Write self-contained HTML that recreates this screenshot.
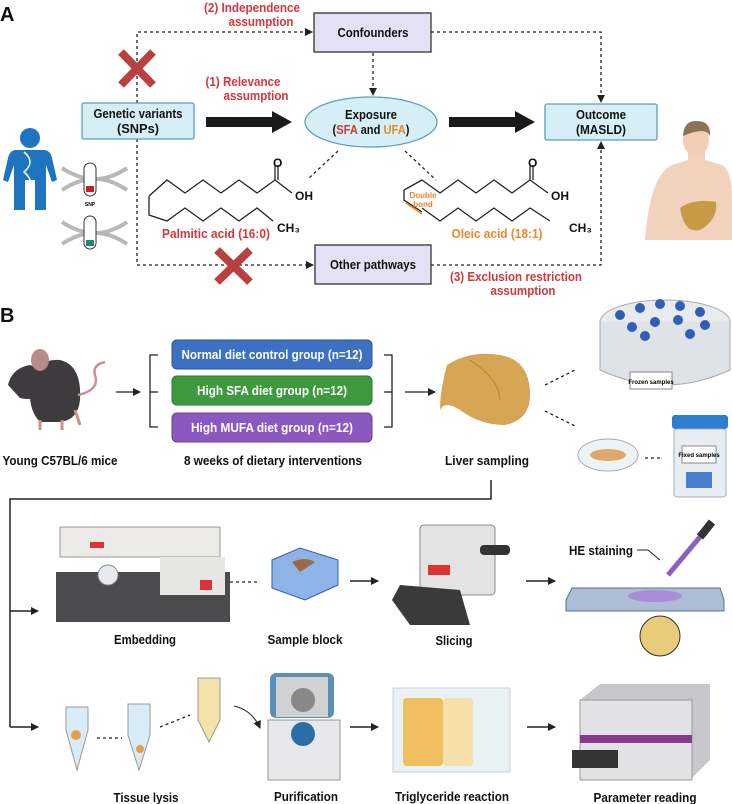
<!DOCTYPE html>
<html><head><meta charset="utf-8"><style>
html,body{margin:0;padding:0;background:#fff}
svg{display:block}
text{font-family:"Liberation Sans",sans-serif;font-weight:bold}
</style></head><body>
<svg width="732" height="804" viewBox="0 0 732 804" xmlns="http://www.w3.org/2000/svg">
<defs>
<marker id="ah" markerWidth="8" markerHeight="8" refX="7" refY="4" orient="auto" markerUnits="userSpaceOnUse"><path d="M0,0 L8,4 L0,8 z" fill="#222"/></marker>
</defs>
<!-- Panel A -->
<text x="0" y="21" font-size="20" fill="#111">A</text>
<g fill="#d2383c" font-size="13" text-anchor="middle" lengthAdjust="spacingAndGlyphs">
<text x="252" y="12" textLength="96" lengthAdjust="spacingAndGlyphs">(2) Independence</text><text x="261" y="26" textLength="65" lengthAdjust="spacingAndGlyphs">assumption</text>
<text x="243" y="86" textLength="75" lengthAdjust="spacingAndGlyphs">(1) Relevance</text><text x="256" y="100" textLength="65" lengthAdjust="spacingAndGlyphs">assumption</text>
<text x="516" y="281" textLength="132" lengthAdjust="spacingAndGlyphs">(3) Exclusion restriction</text><text x="523" y="295" textLength="65" lengthAdjust="spacingAndGlyphs">assumption</text>
</g>
<g stroke="#222" stroke-width="1.3" stroke-dasharray="3,3" fill="none">
<path d="M137,103 V32 H312" marker-end="url(#ah)"/>
<path d="M431,32 H601 V102" marker-end="url(#ah)"/>
<path d="M373,53 V95" marker-end="url(#ah)"/>
<path d="M137,139 V265 H313" marker-end="url(#ah)"/>
<path d="M431,265 H601 V142" marker-end="url(#ah)"/>
<path d="M338,151 L308,179"/>
<path d="M405,151 L436,180"/>
</g>
<rect x="314" y="13" width="117" height="39" fill="#e4e1f4" stroke="#333" stroke-width="1.3"/>
<text x="373" y="37" text-anchor="middle" font-size="13" fill="#111" textLength="71" lengthAdjust="spacingAndGlyphs">Confounders</text>
<rect x="315" y="245" width="116" height="39" fill="#e4e1f4" stroke="#333" stroke-width="1.3"/>
<text x="373" y="269" text-anchor="middle" font-size="13" fill="#111" textLength="86" lengthAdjust="spacingAndGlyphs">Other pathways</text>
<rect x="82" y="103" width="112" height="36" rx="2" fill="#d6eef5" stroke="#5a9fb8" stroke-width="1.3"/>
<text x="138" y="118" text-anchor="middle" font-size="13" fill="#111" textLength="89" lengthAdjust="spacingAndGlyphs">Genetic variants</text>
<text x="138" y="133" text-anchor="middle" font-size="13" fill="#111" textLength="42" lengthAdjust="spacingAndGlyphs">(SNPs)</text>
<ellipse cx="371" cy="122" rx="66" ry="25" fill="#d6eef5" stroke="#5a9fb8" stroke-width="1.3"/>
<text x="371" y="119" text-anchor="middle" font-size="13" fill="#111" textLength="52" lengthAdjust="spacingAndGlyphs">Exposure</text>
<text x="371" y="134" text-anchor="middle" font-size="13" fill="#111" textLength="77" lengthAdjust="spacingAndGlyphs">(<tspan fill="#d2383c">SFA</tspan> and <tspan fill="#e8892a">UFA</tspan>)</text>
<rect x="545" y="104" width="112" height="36" rx="2" fill="#d6eef5" stroke="#5a9fb8" stroke-width="1.3"/>
<text x="601" y="119" text-anchor="middle" font-size="13" fill="#111" textLength="50" lengthAdjust="spacingAndGlyphs">Outcome</text>
<text x="601" y="134" text-anchor="middle" font-size="13" fill="#111" textLength="50" lengthAdjust="spacingAndGlyphs">(MASLD)</text>
<path d="M206,117 H272 V111 L292,122 L272,133 V127 H206 z" fill="#1a1a1a"/>
<path d="M449,117 H515 V111 L535,122 L515,133 V127 H449 z" fill="#1a1a1a"/>
<g stroke="#b84040" stroke-width="8" stroke-linecap="butt">
<path d="M121,52 L153,85 M153,52 L121,85"/>
<path d="M217,250 L250,282 M250,250 L217,282"/>
</g>
<!-- fatty acids -->
<g fill="none" stroke="#222" stroke-width="1.3">
<path d="M149,196 L167,180 L185,193 L203,180 L221,193 L239,180 L257,193 L275,180 L292,193"/>
<path d="M149,196 L149,215 L167,221 L185,208 L203,221 L221,208 L239,221 L257,208 L273,221"/>
<path d="M275,180 V165 M278,180 V165"/>
<path d="M404,190 L422,180 L440,193 L458,180 L476,193 L494,180 L512,193 L530,180 L548,193"/>
<path d="M530,180 V165 M533,180 V165"/>
<path d="M422,208 L440,221 L458,208 L476,221 L494,208 L512,221 L530,208 L550,221"/>
</g>
<path d="M404,190 V200 L422,212" fill="none" stroke="#222" stroke-width="1.3"/>
<path d="M406,203 L422,214" stroke="#e8892a" stroke-width="1.5"/>
<text x="273" y="167" font-size="12" fill="#111" font-weight="normal">O</text>
<text x="295" y="200" font-size="12" fill="#111" font-weight="normal">OH</text>
<text x="277" y="232" font-size="12" fill="#111" font-weight="normal">CH₃</text>
<text x="528" y="167" font-size="12" fill="#111" font-weight="normal">O</text>
<text x="551" y="200" font-size="12" fill="#111" font-weight="normal">OH</text>
<text x="569" y="232" font-size="12" fill="#111" font-weight="normal">CH₃</text>
<text x="423" y="198" font-size="8" fill="#e8892a" text-anchor="middle">Double</text>
<text x="423" y="207" font-size="8" fill="#e8892a" text-anchor="middle">bond</text>
<text x="216" y="238" font-size="13" fill="#d2383c" text-anchor="middle" textLength="108" lengthAdjust="spacingAndGlyphs">Palmitic acid (16:0)</text>
<text x="497" y="238" font-size="13" fill="#e8892a" text-anchor="middle" textLength="91" lengthAdjust="spacingAndGlyphs">Oleic acid (18:1)</text>
<!-- person icon -->
<g fill="#1f74bf">
<circle cx="30" cy="138" r="10"/>
<path d="M16,150 H44 Q50,150 52,158 L57,180 L52,182 L46,165 V210 H35 V180 H25 V210 H14 V165 L8,182 L3,180 L8,158 Q10,150 16,150 z"/>
</g>
<path d="M24,152 Q36,162 24,172 Q36,182 26,192" stroke="#fff" stroke-width="1.5" fill="none"/>
<!-- DNA -->
<g stroke="#b8b8b8" stroke-width="4" fill="none">
<path d="M62,168 Q95,190 127,168 M62,190 Q95,168 127,190"/>
<path d="M62,222 Q95,244 127,222 M62,244 Q95,222 127,244"/>
</g>
<rect x="84" y="163" width="12" height="33" rx="6" fill="#fff" stroke="#333"/>
<rect x="86" y="186" width="8" height="6" fill="#c0202a"/>
<rect x="84" y="216" width="12" height="33" rx="6" fill="#fff" stroke="#333"/>
<rect x="86" y="240" width="8" height="6" fill="#178a70"/>
<text x="90" y="206" font-size="5" text-anchor="middle">SNP</text>
<!-- man torso -->
<g>
<path d="M645,240 Q650,175 672,165 L688,160 V150 H705 V160 L722,165 Q732,170 732,200 V240 z" fill="#f3d2bd"/>
<ellipse cx="696" cy="140" rx="13" ry="16" fill="#f1cdb6"/>
<path d="M683,136 Q684,120 697,121 Q711,121 710,136 Q706,126 683,136 z" fill="#8b7355"/>
<path d="M680,208 Q694,198 716,202 Q718,220 700,230 Q684,234 680,208 z" fill="#c99a45"/>
</g>
<!-- Panel B -->
<text x="0" y="322" font-size="20" fill="#111">B</text>
<!-- mouse -->
<g>
<path d="M30,385 Q35,358 60,360 Q82,365 80,400 Q78,420 60,422 L40,422 Q28,410 30,385 z" fill="#3e3b3e"/>
<path d="M8,385 Q12,368 30,365 Q42,368 42,390 Q36,402 20,398 z" fill="#3e3b3e"/>
<ellipse cx="40" cy="360" rx="9" ry="11" fill="#b88a88"/>
<path d="M78,395 Q100,390 95,375 Q92,365 105,362" stroke="#c99090" stroke-width="2.5" fill="none"/>
<path d="M40,420 V430 M62,420 V430 M75,410 L80,425" stroke="#c99090" stroke-width="3"/>
</g>
<path d="M116,392 H140" stroke="#222" stroke-width="1.3" marker-end="url(#ah)"/>
<path d="M158,355 H150 V427 H158 M150,392 H158" stroke="#222" stroke-width="1.3" fill="none"/>
<path d="M384,355 H392 V427 H384 M384,392 H392" stroke="#222" stroke-width="1.3" fill="none"/>
<path d="M405,392 H435" stroke="#222" stroke-width="1.3" marker-end="url(#ah)"/>
<rect x="172" y="340" width="200" height="29" rx="5" fill="#3d6fc2" stroke="#2a549a"/>
<rect x="172" y="376" width="200" height="29" rx="5" fill="#3e9a3e" stroke="#2b7a2e"/>
<rect x="172" y="413" width="200" height="29" rx="5" fill="#8b58c0" stroke="#6a3f9a"/>
<g fill="#fff" font-size="13" text-anchor="middle">
<text x="272" y="359" textLength="181" lengthAdjust="spacingAndGlyphs">Normal diet control group (n=12)</text>
<text x="272" y="395" textLength="150" lengthAdjust="spacingAndGlyphs">High SFA diet group (n=12)</text>
<text x="272" y="432" textLength="162" lengthAdjust="spacingAndGlyphs">High MUFA diet group (n=12)</text>
</g>
<!-- liver -->
<path d="M447,365 Q470,350 500,355 Q530,360 530,395 Q530,420 505,425 Q480,425 460,410 Q445,400 440,410 Q440,390 447,365 z" fill="#d6a555"/>
<path d="M470,360 Q500,380 500,400" stroke="#b88438" fill="none"/>
<g stroke="#222" stroke-width="1.3" stroke-dasharray="3,3"><path d="M545,385 L575,370"/><path d="M545,411 L575,426"/><path d="M645,458 L660,458"/></g>
<!-- frozen container -->
<ellipse cx="665" cy="322" rx="65" ry="22" fill="#e8eaee" stroke="#aaa"/>
<path d="M600,322 V370 Q665,400 730,370 V322" fill="#dfe2e7" stroke="#aaa"/>
<g fill="#2f5fb5"><circle cx="620" cy="315" r="5"/><circle cx="640" cy="308" r="5"/><circle cx="660" cy="304" r="5"/><circle cx="680" cy="306" r="5"/><circle cx="700" cy="312" r="5"/><circle cx="632" cy="327" r="5"/><circle cx="655" cy="322" r="5"/><circle cx="678" cy="320" r="5"/><circle cx="705" cy="325" r="5"/><circle cx="645" cy="336" r="5"/><circle cx="690" cy="334" r="5"/></g>
<rect x="630" y="372" width="42" height="17" fill="#fff" stroke="#888"/>
<text x="651" y="384" font-size="6" text-anchor="middle">Frozen samples</text>
<!-- petri & jar -->
<ellipse cx="608" cy="455" rx="30" ry="16" fill="#eef3f6" stroke="#aab"/>
<ellipse cx="608" cy="455" rx="18" ry="6" fill="#e0a86a"/>
<rect x="672" y="415" width="56" height="14" rx="3" fill="#2f7fd0"/>
<rect x="674" y="429" width="52" height="68" rx="3" fill="#e6eef3" stroke="#aab"/>
<rect x="682" y="446" width="34" height="17" fill="#fff" stroke="#888"/>
<text x="699" y="457" font-size="6" text-anchor="middle">Fixed samples</text>
<rect x="686" y="472" width="26" height="16" fill="#4a7fd0"/>
<g fill="#111" font-size="13" text-anchor="middle">
<text x="60" y="465" textLength="115" lengthAdjust="spacingAndGlyphs">Young C57BL/6 mice</text>
<text x="273" y="465" textLength="178" lengthAdjust="spacingAndGlyphs">8 weeks of dietary interventions</text>
<text x="487" y="465" textLength="84" lengthAdjust="spacingAndGlyphs">Liver sampling</text>
</g>
<path d="M491,480 V499 H10 V727" stroke="#222" stroke-width="1.5" fill="none"/>
<path d="M10,611 H38" stroke="#222" stroke-width="1.5" marker-end="url(#ah)"/>
<path d="M10,727 H38" stroke="#222" stroke-width="1.5" marker-end="url(#ah)"/>
<!-- embedding machine -->
<rect x="60" y="527" width="160" height="30" fill="#ecebe8" stroke="#999"/>
<rect x="90" y="542" width="14" height="6" fill="#d33"/>
<rect x="56" y="572" width="174" height="50" fill="#4b4b4d"/>
<rect x="160" y="557" width="65" height="38" fill="#e6e6e4"/>
<rect x="200" y="580" width="12" height="10" fill="#d33"/>
<circle cx="108" cy="575" r="10" fill="#e6eaee" stroke="#888"/>
<path d="M230,582 H260" stroke="#222" stroke-width="1.3" stroke-dasharray="3,3"/>
<path d="M272,560 L300,548 L338,560 L338,585 L305,600 L272,588 z" fill="#8fb3e6" stroke="#2e62b0"/>
<path d="M292,562 Q305,556 315,562 L300,572 z" fill="#9b6a45"/>
<path d="M350,581 H378" stroke="#222" stroke-width="1.5" marker-end="url(#ah)"/>
<!-- microtome -->
<rect x="420" y="525" width="75" height="70" rx="4" fill="#e3e3e3" stroke="#888"/>
<rect x="480" y="545" width="30" height="10" rx="4" fill="#333"/>
<path d="M392,600 L400,585 L460,590 L470,625 L410,625 z" fill="#3a3a3a"/>
<rect x="428" y="565" width="22" height="10" fill="#d33"/>
<path d="M526,581 H555" stroke="#222" stroke-width="1.5" marker-end="url(#ah)"/>
<!-- HE -->
<text x="569" y="555" font-size="13" fill="#111" textLength="64" lengthAdjust="spacingAndGlyphs">HE staining</text>
<path d="M637,550 H648 L660,560" stroke="#222" fill="none"/>
<path d="M710,525 L668,575" stroke="#8a60c0" stroke-width="5"/>
<path d="M712,522 L700,537" stroke="#333" stroke-width="8"/>
<path d="M566,600 L572,588 H720 L724,600 V611 H566 z" fill="#aebcd4" stroke="#5a6f98"/>
<ellipse cx="655" cy="596" rx="27" ry="6" fill="#a98bd8"/>
<circle cx="660" cy="636" r="20" fill="#e8cc7a" stroke="#333"/>
<!-- row 2 -->
<g fill="#d8ecf8" stroke="#999">
<path d="M66,707 H88 V730 L77,770 L66,730 z"/>
<path d="M128,704 H150 V735 L139,770 L128,735 z"/>
<path d="M198,678 H220 V720 L209,742 L198,720 z" fill="#f3e3a8"/>
</g>
<circle cx="76" cy="735" r="5" fill="#e0a050"/><circle cx="140" cy="749" r="4" fill="#e0a050"/>
<g stroke="#222" stroke-width="1.3" stroke-dasharray="3,3"><path d="M97,738 H122"/><path d="M160,727 L190,715"/></g>
<path d="M234,706 Q252,710 260,728" stroke="#222" fill="none" marker-end="url(#ah)"/>
<rect x="270" y="673" width="64" height="45" rx="6" fill="#5a8fb8"/>
<rect x="276" y="677" width="52" height="40" fill="#cfd1d3"/>
<circle cx="303" cy="700" r="12" fill="#888"/>
<path d="M268,720 H340 V780 H268 z" fill="#e8e8ea" stroke="#999"/>
<circle cx="303" cy="734" r="12" fill="#2c6ea8"/>
<path d="M350,727 H378" stroke="#222" stroke-width="1.5" marker-end="url(#ah)"/>
<rect x="393" y="688" width="117" height="84" fill="#e8f2f4" stroke="#ccd"/>
<g fill="#f0c060"><rect x="403" y="698" width="40" height="68" rx="4"/></g>
<g fill="#f6dfa8"><rect x="443" y="698" width="30" height="68" rx="4"/></g>
<path d="M527,727 H555" stroke="#222" stroke-width="1.5" marker-end="url(#ah)"/>
<path d="M580,700 L600,684 H710 V760 L690,780 H580 z" fill="#c8c8cc"/>
<rect x="580" y="700" width="112" height="80" fill="#e2e2e4" stroke="#999"/>
<rect x="580" y="735" width="112" height="8" fill="#8a3a8a"/>
<rect x="572" y="750" width="46" height="18" fill="#333"/>
<g fill="#111" font-size="13" text-anchor="middle">
<text x="145" y="644" textLength="62" lengthAdjust="spacingAndGlyphs">Embedding</text>
<text x="305" y="644" textLength="75" lengthAdjust="spacingAndGlyphs">Sample block</text>
<text x="454" y="645" textLength="37" lengthAdjust="spacingAndGlyphs">Slicing</text>
<text x="146" y="802" textLength="65" lengthAdjust="spacingAndGlyphs">Tissue lysis</text>
<text x="306" y="801" textLength="64" lengthAdjust="spacingAndGlyphs">Purification</text>
<text x="452" y="801" textLength="114" lengthAdjust="spacingAndGlyphs">Triglyceride reaction</text>
<text x="645" y="802" textLength="103" lengthAdjust="spacingAndGlyphs">Parameter reading</text>
</g>
</svg>
</body></html>
